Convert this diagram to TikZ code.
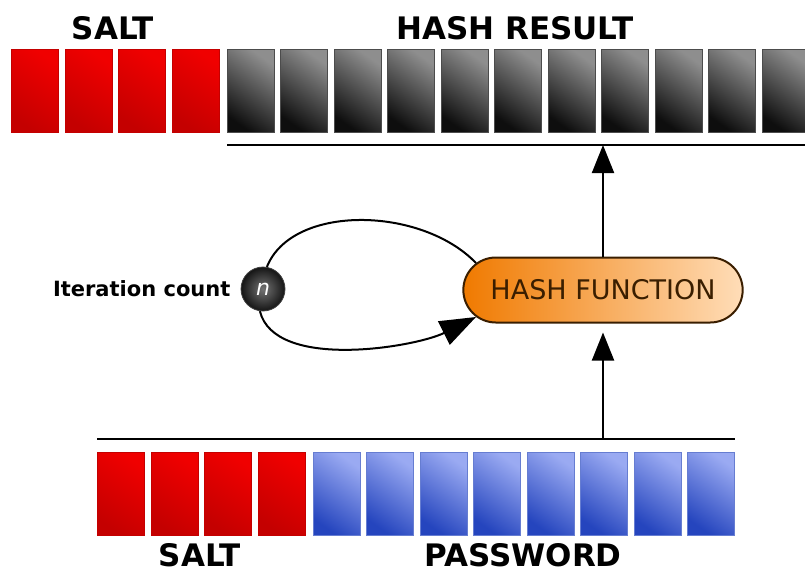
\documentclass[tikz,border=0pt]{standalone}
\usepackage{fontspec}
\setmainfont{DejaVu Sans}
\usepackage{tikz}
\usetikzlibrary{arrows.meta, positioning, shapes.misc}
\definecolor{saltlite}{HTML}{F00000}
\definecolor{saltdeep}{HTML}{C40000}
\definecolor{hashlite}{HTML}{8E8E8E}
\definecolor{hashdeep}{HTML}{0E0E0E}
\definecolor{pwlite}{HTML}{9AAAF2}
\definecolor{pwdeep}{HTML}{2545BE}
\definecolor{fnlite}{HTML}{FFDDB8}
\definecolor{fndeep}{HTML}{F07A00}
\definecolor{fnedge}{HTML}{3A1E00}

\begin{document}
\begin{tikzpicture}[x=1pt, y=-1pt,
          cell/.style={minimum width=47pt, minimum height=83pt, inner sep=0pt, draw=#1, line width=.6pt},
          saltcell/.style={cell=saltdeep, top color=saltlite, bottom color=saltdeep, shading angle=-35},
          hashcell/.style={cell=black!70, top color=hashlite, bottom color=hashdeep, shading angle=-35},
          pwcell/.style={cell=pwdeep!70, top color=pwlite, bottom color=pwdeep, shading angle=-35},
          caption/.style={font=\fontsize{31}{36}\selectfont\bfseries, inner sep=0pt},
          rule/.style={line width=2.5pt},
          link/.style={line width=2pt, -{Triangle[length=28pt, width=22pt]}}]
  \clip (0,0) rectangle (805,573);
  \node[caption] (saltup) at (113,28) {SALT};
  \node[caption] (hashup) at (515,28) {HASH RESULT};
  \foreach \i in {0,...,3} \node[saltcell] (su\i) at ({35+53.5*\i},90.5) {};
  \foreach \k in {0,...,10} \node[hashcell] (hc\k) at ({250.5+53.5*\k},90.5) {};
  \coordinate (topl) at (227,145);
  \coordinate (topr) at (805,145);
  \draw[rule] (topl) -- (topr);

  \node[rounded rectangle, minimum width=286pt, minimum height=65pt, draw=fnedge, line width=2pt,
        left color=fndeep, right color=fnlite, text=fnedge, font=\fontsize{27}{30}\selectfont] (hf) at (603,290) {HASH FUNCTION};
  \node[circle, minimum size=44pt, inner sep=0pt, draw=black!75, line width=.8pt, inner color=black!55, outer color=black!92,
        text=white, font=\fontsize{22}{24}\selectfont\itshape] (n) at (263,289) {n};
  \node[font=\fontsize{21}{24}\selectfont\bfseries, inner sep=0pt, left=10pt of n] (iter) {Iteration count};
  \draw[line width=2pt] (n.80) .. controls +(25,-63) and +(-55,-57) .. (hf.168);
  \draw[line width=2pt, -{Triangle[length=36pt, width=26pt]}] (n.262) .. controls +(15,60) and +(-60,30) .. (hf.192);
  \draw[link] (hf.north) -- (hf.north |- topl);

  \coordinate (botl) at (97,439);
  \coordinate (botr) at (735,439);
  \draw[rule] (botl) -- (botr);
  \draw[link, shorten >=9pt] (hf.south |- botl) -- (hf.south);
  \foreach \i in {0,...,3} \node[saltcell] (sd\i) at ({121+53.5*\i},493.5) {};
  \foreach \k in {0,...,7} \node[pwcell] (pc\k) at ({336.5+53.5*\k},493.5) {};
  \node[caption] (saltdown) at (200,555) {SALT};
  \node[caption] (pwdown) at (523,555) {PASSWORD};
\end{tikzpicture}
\end{document}
